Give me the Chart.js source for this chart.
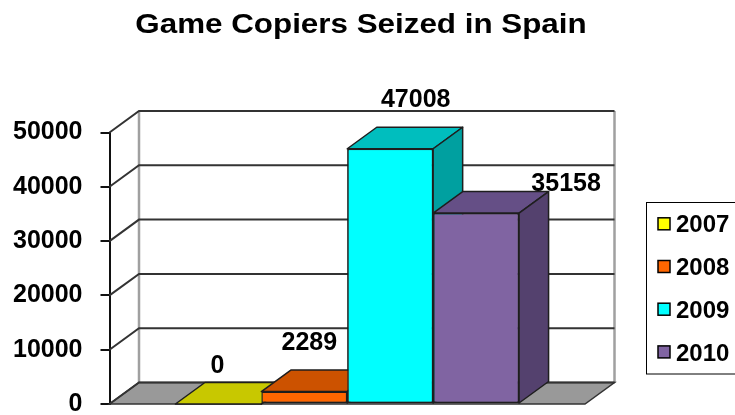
<!DOCTYPE html>
<html>
<head>
<meta charset="utf-8">
<title>Game Copiers Seized in Spain</title>
<script src="https://cdn.jsdelivr.net/npm/chart.js@4.4.1/dist/chart.umd.min.js"></script>
<style>
  html, body { margin: 0; padding: 0; background: #fff; }
  canvas { display: block; }
</style>
</head>
<body>
<canvas id="seized-chart" width="735" height="415"></canvas>
<script>
const chartTitle = "Game Copiers Seized in Spain";
const years = ["2007", "2008", "2009", "2010"];
const seized = [0, 2289, 47008, 35158];
const yTicks = [0, 10000, 20000, 30000, 40000, 50000];

// face colours: front, top, right side
const frontColors = ["#ffff00", "#ff6600", "#00ffff", "#8064a2"];
const topColors = ["#c8c800", "#cc5200", "#00bebe", "#654f86"];
const sideColors = ["#a0a000", "#a34100", "#00a0a0", "#54416e"];

// where each value label sits, relative to the top centre of its bar
const labelOffsets = [[-1, -31], [5, -42], [25.5, -41.5], [90, -22]];

const DX = 29.5;
const DY = -21.5;
const EDGE = "#333333";
const WALL_EDGE = "#a0a0a0";
const FONT = "Arial, 'Liberation Sans', sans-serif";

function poly(ctx, pts) {
  ctx.beginPath();
  ctx.moveTo(pts[0][0], pts[0][1]);
  for (let k = 1; k < pts.length; k++) ctx.lineTo(pts[k][0], pts[k][1]);
  ctx.closePath();
  ctx.fill();
  ctx.stroke();
}

const box3d = {
  id: "box3d",

  beforeDatasetsDraw(chart) {
    const { ctx, chartArea, scales } = chart;
    const { left, right, top, bottom } = chartArea;
    ctx.save();

    // vertical edges of the back wall
    ctx.strokeStyle = WALL_EDGE;
    ctx.lineWidth = 2.5;
    ctx.beginPath();
    ctx.moveTo(left + DX, top + DY);
    ctx.lineTo(left + DX, bottom + DY);
    ctx.moveTo(right + DX, top + DY);
    ctx.lineTo(right + DX, bottom + DY);
    ctx.stroke();

    // floor
    ctx.fillStyle = "#999999";
    ctx.strokeStyle = EDGE;
    ctx.lineWidth = 1.5;
    poly(ctx, [[left, bottom], [right, bottom], [right + DX, bottom + DY], [left + DX, bottom + DY]]);

    // gridlines on side wall and back wall
    ctx.strokeStyle = EDGE;
    ctx.lineWidth = 2;
    ctx.beginPath();
    yTicks.forEach((v) => {
      const py = scales.y.getPixelForValue(v);
      ctx.moveTo(left, py);
      ctx.lineTo(left + DX, py + DY);
      ctx.lineTo(right + DX, py + DY);
    });
    ctx.stroke();

    ctx.restore();
  },

  // the blocks overlap, so paint them again left to right with their top and side faces
  afterDatasetsDraw(chart) {
    const { ctx } = chart;
    ctx.save();
    years.forEach((year, i) => {
      const bar = chart.getDatasetMeta(i).data[0];
      const { x, y, base, width } = bar.getProps(["x", "y", "base", "width"], true);
      const l = x - width / 2;
      const r = x + width / 2;

      bar.draw(ctx);

      ctx.strokeStyle = "#1e1e1e";
      ctx.lineWidth = 1.5;
      ctx.lineJoin = "round";
      ctx.fillStyle = topColors[i];
      poly(ctx, [[l, y], [r, y], [r + DX, y + DY], [l + DX, y + DY]]);
      ctx.fillStyle = sideColors[i];
      poly(ctx, [[r, y], [r + DX, y + DY], [r + DX, base + DY], [r, base]]);
    });
    ctx.restore();
  },

  afterDraw(chart) {
    const { ctx } = chart;
    ctx.save();

    // title
    ctx.fillStyle = "#000";
    ctx.font = "bold 28px " + FONT;
    ctx.textAlign = "center";
    ctx.textBaseline = "alphabetic";
    ctx.save();
    ctx.translate(361, 33);
    ctx.scale(1.12, 1);
    ctx.fillText(chartTitle, 0, 0);
    ctx.restore();

    // value labels
    ctx.font = "bold 25px " + FONT;
    years.forEach((year, i) => {
      const bar = chart.getDatasetMeta(i).data[0];
      ctx.fillText(String(seized[i]), bar.x + labelOffsets[i][0], bar.y + labelOffsets[i][1]);
    });

    // legend
    const lx = 646.5;
    const ly = 202.5;
    const rowGap = 42.7;
    ctx.strokeStyle = "#000";
    ctx.lineWidth = 1;
    ctx.strokeRect(lx, ly, 120, 171.5);

    ctx.font = "bold 24px " + FONT;
    ctx.textAlign = "left";
    years.forEach((year, i) => {
      const cy = 223.8 + i * rowGap;
      ctx.fillStyle = frontColors[i];
      ctx.fillRect(658, cy - 6, 12, 12);
      ctx.strokeStyle = "#000";
      ctx.lineWidth = 1.5;
      ctx.strokeRect(658, cy - 6, 12, 12);
      ctx.fillStyle = "#000";
      ctx.fillText(year, 676, cy + 8.6);
    });

    ctx.restore();
  },
};

const canvas = document.getElementById("seized-chart");

const seizedChart = new Chart(canvas, {
  type: "bar",
  data: {
    labels: [""],
    datasets: years.map((year, i) => ({
      label: year,
      data: [seized[i]],
      backgroundColor: frontColors[i],
      borderColor: "#1e1e1e",
      borderWidth: 1.5,
      borderSkipped: false,
      categoryPercentage: 0.7227,
      barPercentage: 1,
    })),
  },
  options: {
    responsive: false,
    animation: false,
    layout: { padding: { top: 132.5, right: 150, bottom: 11, left: 0 } },
    plugins: {
      legend: { display: false },
      title: { display: false },
      tooltip: { enabled: false },
    },
    scales: {
      x: { display: false },
      y: {
        min: yTicks[0],
        max: yTicks[yTicks.length - 1],
        afterBuildTicks(scale) {
          scale.ticks = yTicks.map((v) => ({ value: v }));
        },
        afterFit(scale) {
          scale.width = 109.5;
          scale.paddingTop = 0;
          scale.paddingBottom = 0;
        },
        ticks: {
          color: "#000",
          padding: 18,
          font: { family: FONT, size: 25, weight: "bold" },
          callback: (value) => String(value),
        },
        grid: {
          drawOnChartArea: false,
          drawTicks: true,
          tickLength: 9,
          color: "#111",
          lineWidth: 2,
        },
        border: { display: true, color: "#111", width: 2 },
      },
    },
  },
  plugins: [box3d],
});
</script>
</body>
</html>
